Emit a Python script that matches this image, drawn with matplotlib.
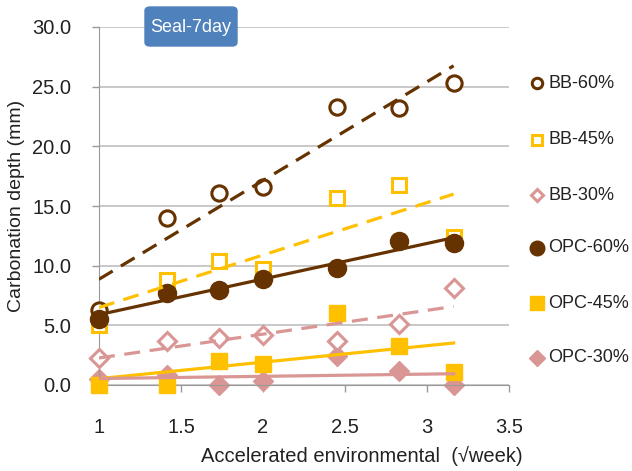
import matplotlib.pyplot as plt
from matplotlib.lines import Line2D
from matplotlib.patches import FancyBboxPatch
import numpy as np

plt.rcParams['font.family'] = ['Liberation Sans', 'DejaVu Sans']

# sqrt(week) for 1, 2, 3, 4, 6, 8, 10 weeks
x = np.sqrt([1, 2, 3, 4, 6, 8, 10])

bb60 = [6.3, 14.0, 16.1, 16.6, 23.3, 23.2, 25.3]
bb45 = [5.0, 8.8, 10.4, 9.7, 15.7, 16.8, 12.4]
bb30 = [2.3, 3.7, 3.9, 4.2, 3.7, 5.1, 8.1]
opc60 = [5.5, 7.7, 8.0, 8.9, 9.8, 12.1, 11.9]
opc45 = [0.0, 0.0, 2.0, 1.8, 6.0, 3.3, 1.1]
opc30 = [0.5, 0.8, 0.0, 0.3, 2.4, 1.2, 0.0]

brown = '#663300'
gold = '#FFC000'
pink = '#D99694'

# name, values, colour, marker, filled, marker size, legend marker size
series = [
    ('BB-60%', bb60, brown, 'o', False, 11, 7.5),
    ('BB-45%', bb45, gold, 's', False, 10.5, 7.5),
    ('BB-30%', bb30, pink, 'D', False, 9, 6.5),
    ('OPC-60%', opc60, brown, 'o', True, 13, 10.5),
    ('OPC-45%', opc45, gold, 's', True, 11.5, 9.5),
    ('OPC-30%', opc30, pink, 'D', True, 10, 8),
]

fig = plt.figure(figsize=(6.32, 4.71), dpi=100)
ax = fig.add_axes([99 / 632, 86 / 471, 410 / 632, 358 / 471])

for i, (name, y, c, m, filled, ms, lms) in enumerate(series):
    k, b = np.polyfit(x, y, 1)
    xs = np.array([x[0], x[-1]])
    z = 3 - 0.1 * i if name == 'OPC-30%' else 3 + 0.01 * i
    if filled:
        ax.plot(x, y, linestyle='none', marker=m, ms=ms, color=c, zorder=z,
                clip_on=False)
        ax.plot(xs, k * xs + b, color=c, lw=2.3, linestyle='-', zorder=4)
    else:
        ax.plot(x, y, linestyle='none', marker=m, ms=ms, mfc='white', mec=c,
                mew=2.2, zorder=z, clip_on=False)
        ax.plot(xs, k * xs + b, color=c, lw=2.3, linestyle=(0, (5, 3)),
                zorder=4)

ax.set_xlim(1, 3.5)
ax.set_ylim(0, 30)
ax.set_xticks(np.arange(1, 3.51, 0.5))
ax.set_xticklabels(['1', '1.5', '2', '2.5', '3', '3.5'])
ax.set_yticks(np.arange(0, 30.1, 5))
ax.set_yticklabels(['%.1f' % v for v in np.arange(0, 30.1, 5)])
ax.tick_params(axis='both', labelsize=14.5, labelcolor='#222222', length=5,
               width=1, color='#999999')
ax.tick_params(axis='x', pad=18.5)
ax.tick_params(axis='y', pad=15)
ax.grid(axis='y', color='#BFBFBF', lw=1.2)
ax.set_axisbelow(True)
for s in ['top', 'right']:
    ax.spines[s].set_visible(False)
for s in ['left', 'bottom']:
    ax.spines[s].set_color('#999999')

ax.set_xlabel('Accelerated environmental  (√week)', fontsize=14.5,
              color='#222222')
ax.xaxis.set_label_coords((362 - 99) / 410, (385 - 446) / 358)
ax.set_ylabel('Carbonation depth (mm)', fontsize=14, color='#222222')
ax.yaxis.set_label_coords((25 - 99) / 410, 0.5)

box = FancyBboxPatch((145 / 632, 1 - 46 / 471), 92 / 632, 39 / 471,
                     boxstyle='round,pad=0,rounding_size=0.008',
                     transform=fig.transFigure, fc='#4F81BD', ec='#4F81BD')
fig.patches.append(box)
fig.text(191 / 632, 1 - 27 / 471, 'Seal-7day', color='white', fontsize=13,
         ha='center', va='center')

# legend drawn as marker + text rows on the right
row_y = [83, 140, 195, 248, 303, 358]
for (name, y, c, m, filled, ms, lms), ry in zip(series, row_y):
    fy = 1 - ry / 471
    if filled:
        h = Line2D([537 / 632], [fy], transform=fig.transFigure,
                   linestyle='none', marker=m, ms=lms, color=c)
    else:
        h = Line2D([537 / 632], [fy], transform=fig.transFigure,
                   linestyle='none', marker=m, ms=lms, mfc='white', mec=c,
                   mew=2.2)
    fig.add_artist(h)
    fig.text(548 / 632, fy, name, fontsize=13, color='#222222',
             ha='left', va='center')

fig.savefig('out.png', dpi=100)
